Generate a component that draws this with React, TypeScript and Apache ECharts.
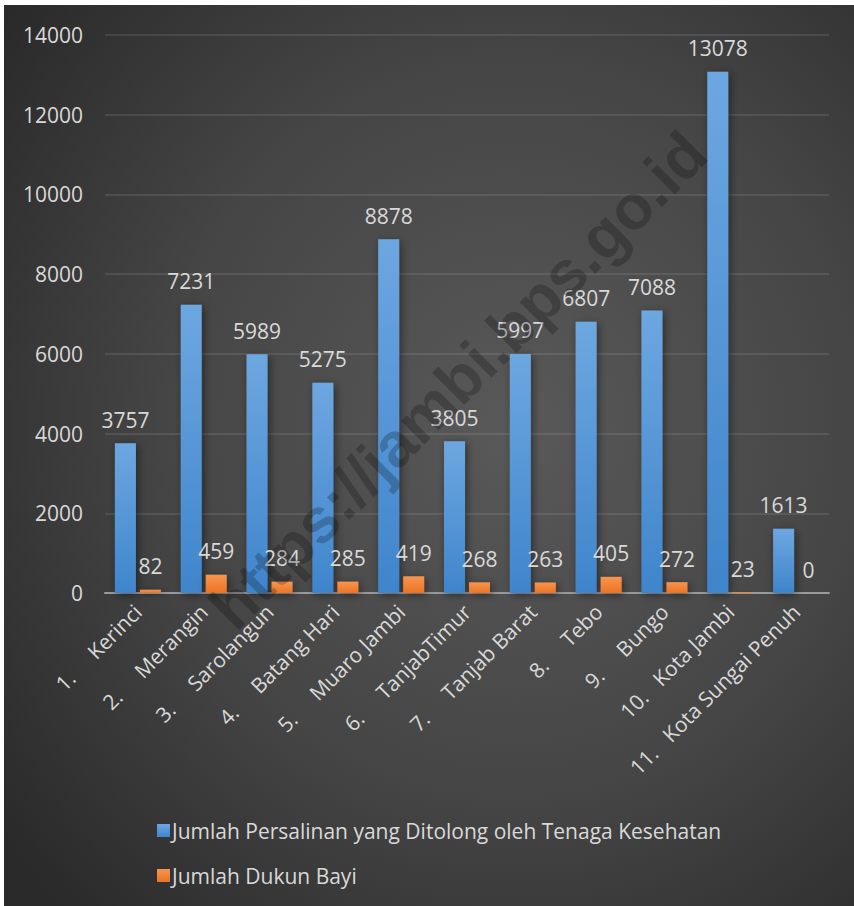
import React, { useEffect, useRef } from "react";
import * as echarts from "echarts";

const categories = [
  "1.     Kerinci",
  "2.     Merangin",
  "3.     Sarolangun",
  "4.     Batang Hari",
  "5.     Muaro Jambi",
  "6.     TanjabTimur",
  "7.     Tanjab Barat",
  "8.     Tebo",
  "9.     Bungo",
  "10.   Kota Jambi",
  "11.   Kota Sungai Penuh",
];
const persalinan = [3757, 7231, 5989, 5275, 8878, 3805, 5997, 6807, 7088, 13078, 1613];
const dukun = [82, 459, 284, 285, 419, 268, 263, 405, 272, 23, 0];
const seriesNames = [
  "Jumlah Persalinan yang Ditolong oleh Tenaga Kesehatan",
  "Jumlah Dukun Bayi",
];
const watermark = "https://jambi.bps.go.id";

const FONT = "'Open Sans', sans-serif";
const TXT = "#d9d9d9";
const FS = 21;

export default function App() {
  const ref = useRef<HTMLDivElement>(null);
  useEffect(() => {
    if (!ref.current) return;
    const chart = echarts.init(ref.current, undefined, { renderer: "svg" });
    const blue = new echarts.graphic.LinearGradient(0, 0, 0, 1, [
      { offset: 0, color: "#6da7e0" },
      { offset: 1, color: "#3f85cc" },
    ]);
    const orange = new echarts.graphic.LinearGradient(0, 0, 0, 1, [
      { offset: 0, color: "#f7954f" },
      { offset: 1, color: "#eb7424" },
    ]);
    const labelStyle = {
      show: true,
      position: "top" as const,
      distance: 13,
      color: TXT,
      fontFamily: FONT,
      fontSize: FS,
    };
    chart.setOption({
      animation: false,
      backgroundColor: new echarts.graphic.RadialGradient(0.6, 0.47, 0.75, [
        { offset: 0, color: "#595959" },
        { offset: 0.55, color: "#454545" },
        { offset: 1, color: "#2a2a2a" },
      ]),
      textStyle: { fontFamily: FONT, color: TXT },
      grid: { left: 101, right: 25, top: 30, bottom: 313 },
      legend: {
        orient: "vertical",
        left: 148,
        top: 810,
        itemWidth: 13,
        itemHeight: 13,
        itemGap: 24,
        icon: "rect",
        textStyle: { color: TXT, fontFamily: FONT, fontSize: FS, padding: [0, 0, 0, -3] },
        data: seriesNames,
      },
      xAxis: {
        type: "category",
        data: categories,
        axisLine: { lineStyle: { color: "#9a9a9a", width: 2 } },
        axisTick: { show: false },
        axisLabel: {
          interval: 0,
          rotate: 45,
          margin: 15,
          color: TXT,
          fontFamily: FONT,
          fontSize: FS,
        },
      },
      yAxis: {
        type: "value",
        min: 0,
        max: 14000,
        interval: 2000,
        axisLine: { show: false },
        axisTick: { show: false },
        splitLine: { lineStyle: { color: "rgba(255,255,255,0.13)", width: 1.5 } },
        axisLabel: {
          margin: 22,
          color: TXT,
          fontFamily: FONT,
          fontSize: FS,
          formatter: (v: number) => String(v),
        },
      },
      series: [
        {
          name: seriesNames[0],
          type: "bar",
          data: persalinan,
          barWidth: 21,
          barGap: "19%",
          itemStyle: {
            color: blue,
            shadowBlur: 8,
            shadowColor: "rgba(0,0,0,0.45)",
            shadowOffsetX: 2,
            shadowOffsetY: 2,
          },
          label: labelStyle,
        },
        {
          name: seriesNames[1],
          type: "bar",
          data: dukun,
          barWidth: 21,
          itemStyle: {
            color: orange,
            shadowBlur: 8,
            shadowColor: "rgba(0,0,0,0.45)",
            shadowOffsetX: 2,
            shadowOffsetY: 2,
          },
          label: labelStyle,
        },
      ],
      graphic: [
        {
          type: "text",
          x: 454,
          y: 375,
          rotation: Math.PI / 4,
          z: 100,
          style: {
            text: watermark,
            fill: "rgba(0,0,0,0.22)",
            font: "bold 63px 'Liberation Sans', Arial, sans-serif",
            align: "center",
            verticalAlign: "middle",
          },
        },
      ],
    });
    return () => chart.dispose();
  }, []);
  return (
    <div style={{ position: "fixed", left: 0, top: 0, width: 854, height: 906, background: "#fff" }}>
      <div ref={ref} style={{ position: "absolute", left: 4, top: 5, width: 850, height: 901 }} />
    </div>
  );
}
